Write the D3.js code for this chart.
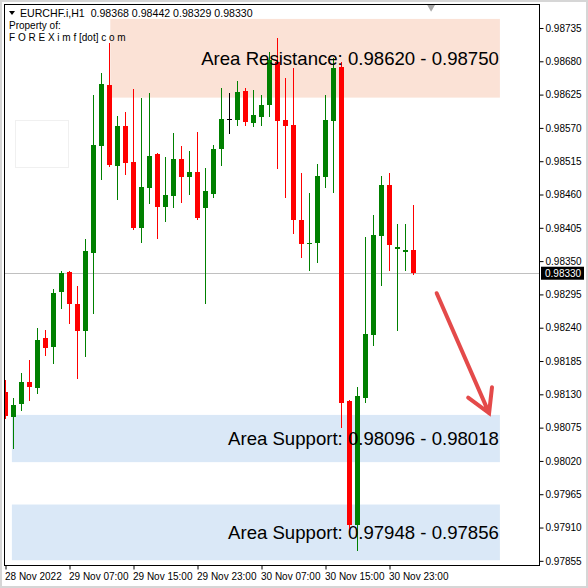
<!DOCTYPE html>
<html>
<head>
<meta charset="utf-8">
<script src="https://cdn.jsdelivr.net/npm/d3@7"></script>
<style>
  html, body { margin: 0; padding: 0; background: #fff; }
  svg { display: block; font-family: "Liberation Sans", Arial, sans-serif; }
  .axis text { font-size: 10px; fill: #000; }
  .axis line { stroke: #000; }
</style>
</head>
<body>
<svg width="588" height="588"></svg>
<script>
// EURCHF.i H1 candles, 28 Nov 23:00 -> 1 Dec 02:00
var opens  = [0.98134,0.98093,0.98114,0.98150,0.98140,0.98223,0.98208,0.98299,0.98332,0.98279,
              0.98235,0.98363,0.98540,0.98641,0.98507,0.98573,0.98514,0.98405,0.98471,0.98527,
              0.98439,0.98458,0.98519,0.98489,0.98497,0.98438,0.98461,0.98535,0.98585,0.98583,
              0.98631,0.98578,0.98588,0.98608,0.98679,0.98583,0.98575,0.98418,0.98378,0.98380,
              0.98489,0.98581,0.98671,0.98119,0.97914,0.98124,0.98228,0.98392,0.98476,0.98370,
              0.98365,0.98368];
var highs  = [0.98154,0.98124,0.98165,0.98187,0.98240,0.98236,0.98304,0.98334,0.98333,0.98309,
              0.98387,0.98624,0.98661,0.98710,0.98590,0.98596,0.98634,0.98619,0.98628,0.98528,
              0.98522,0.98562,0.98540,0.98532,0.98563,0.98504,0.98542,0.98636,0.98628,0.98648,
              0.98636,0.98633,0.98624,0.98695,0.98719,0.98652,0.98669,0.98495,0.98463,0.98510,
              0.98624,0.98685,0.98679,0.98120,0.98142,0.98390,0.98426,0.98491,0.98495,0.98411,
              0.98411,0.98442];
var lows   = [0.98091,0.98041,0.98104,0.98121,0.98132,0.98195,0.98182,0.98273,0.98248,0.98157,
              0.98193,0.98264,0.98486,0.98507,0.98453,0.98494,0.98403,0.98382,0.98446,0.98388,
              0.98416,0.98439,0.98448,0.98461,0.98420,0.98281,0.98456,0.98509,0.98562,0.98575,
              0.98575,0.98573,0.98575,0.98590,0.98504,0.98456,0.98396,0.98357,0.98335,0.98348,
              0.98472,0.98464,0.98076,0.97901,0.97873,0.98117,0.98212,0.98311,0.98335,0.98236,
              0.98335,0.98329];
var closes = [0.98094,0.98112,0.98150,0.98142,0.98220,0.98207,0.98297,0.98330,0.98279,0.98235,
              0.98367,0.98542,0.98643,0.98509,0.98573,0.98512,0.98405,0.98472,0.98524,0.98439,
              0.98459,0.98519,0.98489,0.98497,0.98421,0.98466,0.98535,0.98585,0.98585,0.98629,
              0.98580,0.98591,0.98608,0.98682,0.98581,0.98573,0.98418,0.98378,0.98380,0.98491,
              0.98583,0.98669,0.98116,0.97914,0.98127,0.98230,0.98393,0.98476,0.98377,0.98373,
              0.98368,0.98330];

var priceTicks = [0.98735,0.98680,0.98625,0.98570,0.98515,0.98460,0.98405,0.98350,0.98295,
                  0.98240,0.98185,0.98130,0.98075,0.98020,0.97965,0.97910,0.97855];
var timeTickBars   = [0, 8, 16, 24, 32, 40, 48];
var timeTickLabels = ["28 Nov 2022","29 Nov 07:00","29 Nov 15:00","29 Nov 23:00",
                      "30 Nov 07:00","30 Nov 15:00","30 Nov 23:00"];

// zones: [fromBar, toBar, top price, bottom price, label]
var zoneNames  = ["Area Resistance: 0.98620 - 0.98750","Area Support: 0.98096 - 0.98018","Area Support: 0.97948 - 0.97856"];
var zoneTop    = [0.98750, 0.98096, 0.97948];
var zoneBottom = [0.98620, 0.98018, 0.97856];
var zoneFrom   = [13.1, 0.8, 0.8];
var zoneTo     = [61.8, 61.8, 61.8];
var zoneKind   = ["res", "sup", "sup"];

// arrow from [bar, price] to [bar, price]
var arrowFrom = [53.9, 0.98297];
var arrowTo   = [60.45, 0.98099];

var symbol = "EURCHF.i,H1";
var lastPrice = closes[closes.length - 1];

var svg = d3.select("svg");

var x = d3.scaleLinear().domain([0, 66.75]).range([5.5, 539.5]);
var y = d3.scaleLinear().domain([0.978473, 0.987738]).range([565.5, 4.5]);

var colGreen = "#008000", colRed = "#ff0000";

// outer window
svg.append("rect").attr("x", 0).attr("y", 0).attr("width", 588).attr("height", 588).attr("fill", "#fff");
svg.append("rect").attr("x", 1).attr("y", 1).attr("width", 586).attr("height", 586)
    .attr("fill", "none").attr("stroke", "#d6d6d6").attr("stroke-width", 2);

var plot = svg.append("g");
svg.append("clipPath").attr("id", "plotclip").append("rect")
    .attr("x", 4.5).attr("y", 4.5).attr("width", 535).attr("height", 561);
plot.attr("clip-path", "url(#plotclip)");

// zones
zoneNames.forEach(function(n, i){
  plot.append("rect")
      .attr("x", x(zoneFrom[i]))
      .attr("y", y(zoneTop[i]))
      .attr("width", x(zoneTo[i]) - x(zoneFrom[i]))
      .attr("height", y(zoneBottom[i]) - y(zoneTop[i]))
      .attr("fill", zoneKind[i] == "res" ? "#fbe2d6" : "#dae8f7");
});

// faint info box (template leftover)
plot.append("rect").attr("x", 15.5).attr("y", 120.5).attr("width", 53).attr("height", 47)
    .attr("fill", "none").attr("stroke", "#f0f0f0");

// bid line
plot.append("line")
    .attr("x1", 4.5).attr("x2", 539.5)
    .attr("y1", Math.round(y(lastPrice)) + 0.5).attr("y2", Math.round(y(lastPrice)) + 0.5)
    .attr("stroke", "#c0c0c0");

// candles
var bars = d3.range(opens.length);
function candleColor(i){
  if (closes[i] > opens[i]) return colGreen;
  if (closes[i] < opens[i]) return colRed;
  return "#000";
}

var candle = plot.selectAll(".candle").data(bars).enter().append("g").attr("class", "candle");

candle.append("line")
    .attr("x1", function(i){ return x(i); })
    .attr("x2", function(i){ return x(i); })
    .attr("y1", function(i){ return Math.round(y(highs[i])); })
    .attr("y2", function(i){ return Math.round(y(lows[i])) + 1; })
    .attr("stroke", candleColor);

candle.append("rect")
    .attr("x", function(i){ return x(i) - 2.5; })
    .attr("width", 5)
    .attr("y", function(i){ return Math.round(y(Math.max(opens[i], closes[i]))); })
    .attr("height", function(i){
      var h = Math.round(y(Math.min(opens[i], closes[i]))) - Math.round(y(Math.max(opens[i], closes[i])));
      return Math.max(1, h);
    })
    .attr("fill", candleColor);

// zone labels
zoneNames.forEach(function(n, i){
  var yc = (y(zoneTop[i]) + y(zoneBottom[i])) / 2;
  plot.append("text")
      .attr("x", x(zoneTo[i]) - 1)
      .attr("y", yc)
      .attr("dy", "0.36em")
      .attr("text-anchor", "end")
      .attr("font-size", 18.6)
      .attr("fill", "#000")
      .text(n);
});

// arrow
var ax0 = x(arrowFrom[0]), ay0 = y(arrowFrom[1]);
var ax1 = x(arrowTo[0]),   ay1 = y(arrowTo[1]);
var ang = Math.atan2(ay1 - ay0, ax1 - ax0);
var wing = 26, spread = Math.PI / 6;
var arrowPath = d3.path();
arrowPath.moveTo(ax0, ay0); arrowPath.lineTo(ax1, ay1);
arrowPath.moveTo(ax1 - wing * Math.cos(ang - spread), ay1 - wing * Math.sin(ang - spread));
arrowPath.lineTo(ax1, ay1);
arrowPath.lineTo(ax1 - wing * Math.cos(ang + spread), ay1 - wing * Math.sin(ang + spread));
plot.append("path")
    .attr("d", arrowPath.toString())
    .attr("fill", "none")
    .attr("stroke", "#e44a4a")
    .attr("stroke-width", 4)
    .attr("stroke-linecap", "round")
    .attr("stroke-linejoin", "miter");

// chart-shift marker
svg.append("path")
    .attr("d", d3.symbol().type(d3.symbolTriangle).size(28)())
    .attr("transform", "translate(" + x(53.2) + ",7) rotate(180)")
    .attr("fill", "#a8a8a8");

// frame
svg.append("rect").attr("x", 4.5).attr("y", 4.5).attr("width", 535).attr("height", 561)
    .attr("fill", "none").attr("stroke", "#000");

// axes
var yAxis = d3.axisRight(y).tickValues(priceTicks).tickSize(4).tickPadding(2)
    .tickFormat(d3.format(".5f"));
svg.append("g").attr("class", "axis").attr("transform", "translate(539.5,0)").call(yAxis)
   .call(function(g){ g.select(".domain").remove(); });

var xAxis = d3.axisBottom(x).tickValues(timeTickBars).tickSize(4).tickPadding(3)
    .tickFormat(function(d, i){ return timeTickLabels[i]; });
svg.append("g").attr("class", "axis").attr("transform", "translate(0,565.5)").call(xAxis)
   .call(function(g){
     g.select(".domain").remove();
     g.selectAll("text").attr("text-anchor", "start").attr("dx", -1);
   });

// last price tag
var tag = svg.append("g").attr("transform", "translate(541," + y(lastPrice) + ")");
tag.append("rect").attr("x", 0).attr("y", -6.5).attr("width", 43).attr("height", 13).attr("fill", "#000");
tag.append("text").attr("x", 4).attr("dy", "0.35em").attr("font-size", 10).attr("fill", "#fff")
   .text(d3.format(".5f")(lastPrice));

// header
svg.append("path").attr("d", "M9,11 L15,11 L12,15 Z").attr("fill", "#000");
svg.append("text").attr("x", 20).attr("y", 16.5).attr("font-size", 10.6)
   .style("white-space", "pre")
   .text(symbol + "  " + [opens, highs, lows, closes].map(function(a){ return d3.format(".5f")(a[a.length - 1]); }).join(" "));
svg.append("text").attr("x", 9).attr("y", 29).attr("font-size", 10).text("Property of:");
svg.append("text").attr("x", 9).attr("y", 41).attr("font-size", 10)
   .style("white-space", "pre")
   .text("F O R E X i m f [dot] c o m");
</script>
</body>
</html>
